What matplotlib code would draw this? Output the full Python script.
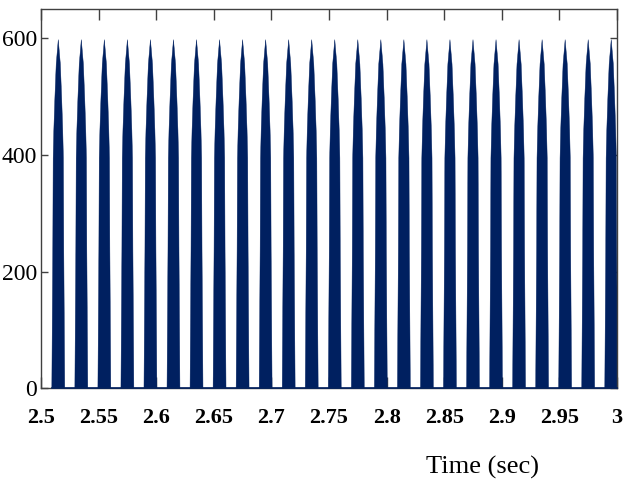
import matplotlib
matplotlib.use("Agg")
import matplotlib.pyplot as plt
import numpy as np

# ---- data ----
pulse_centers = [2.515 + 0.02 * k for k in range(25)]   # pulse centre times (s)
pulse_peaks = [598] * 25                                 # peak values
pulse_width = 0.0112                                     # base width (s)
# pulse profile: level (fraction of peak) vs width fraction
profile_level = [0.0, 0.40, 0.66, 0.74, 0.83, 0.93, 1.0]
profile_width = [1.0, 0.85, 0.79, 0.69, 0.53, 0.32, 0.0]

x_ticks = [2.5, 2.55, 2.6, 2.65, 2.7, 2.75, 2.8, 2.85, 2.9, 2.95, 3.0]
x_ticklabels = ["2.5", "2.55", "2.6", "2.65", "2.7", "2.75", "2.8", "2.85", "2.9", "2.95", "3"]
y_ticks = [0, 200, 400, 600]
y_ticklabels = ["0", "200", "400", "600"]

navy = "#002060"
spine_col = "#404040"

fig = plt.figure(figsize=(6.4, 4.91), dpi=100)
ax = fig.add_axes([41 / 640, 1 - 388.3 / 491, 576 / 640, 379 / 491])

lv = np.array(profile_level)
wd = np.array(profile_width)
for c, p in zip(pulse_centers, pulse_peaks):
    xl = c - wd * pulse_width / 2
    xr = c + wd * pulse_width / 2
    xs = np.concatenate([xl, xr[::-1]])
    ys = np.concatenate([lv * p, (lv * p)[::-1]])
    ax.fill(xs, ys, color=navy, lw=0.3, ec=navy, zorder=2)

ax.plot([pulse_centers[0] - pulse_width / 2, 3.0], [0, 0], color=navy, lw=1.2,
        zorder=3, clip_on=False)

ax.set_xlim(2.5, 3.0)
ax.set_ylim(0, 650)
ax.set_xticks(x_ticks)
ax.set_xticklabels(x_ticklabels)
ax.set_yticks(y_ticks)
ax.set_yticklabels(y_ticklabels)

for s in ax.spines.values():
    s.set_color(spine_col)
    s.set_linewidth(1.0)

ax.tick_params(axis="x", direction="in", top=True, bottom=True, length=8,
               width=1, color=spine_col, pad=14)
ax.tick_params(axis="y", direction="in", left=True, right=True, length=5,
               width=1, color=spine_col, pad=3)

for lab in ax.get_xticklabels():
    lab.set_fontfamily("Liberation Serif")
    lab.set_fontweight("bold")
    lab.set_fontsize(16)
for lab in ax.get_yticklabels():
    lab.set_fontfamily("Liberation Serif")
    lab.set_fontsize(17)

fig.text(483 / 640, 1 - 467 / 491, "Time (sec)", family="Liberation Serif",
         fontsize=19, ha="center", va="center")

fig.savefig("out.png", dpi=100)
